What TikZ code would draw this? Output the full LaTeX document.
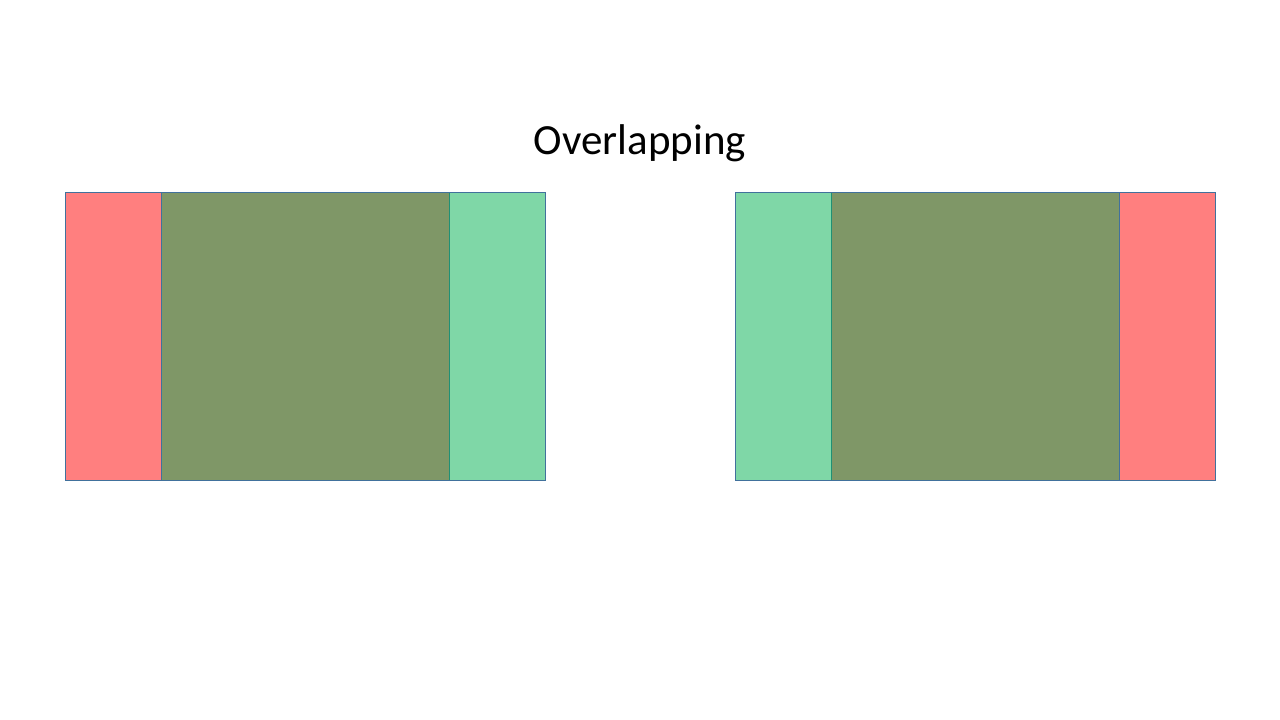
\documentclass[tikz,border=0pt]{standalone}
\usepackage{fontspec}
\setmainfont{Carlito}
\definecolor{redfill}{HTML}{FF0000}
\definecolor{greenfill}{HTML}{00B050}
\definecolor{edgeblue}{HTML}{41719C}
\begin{document}
\begin{tikzpicture}[x=1pt,y=-1pt,
  redbox/.style={fill=redfill,fill opacity=0.5,draw=edgeblue,draw opacity=1,line width=1pt},
  greenbox/.style={fill=greenfill,fill opacity=0.5,draw=edgeblue,draw opacity=1,line width=1pt}]
\useasboundingbox (0,0) rectangle (1280,720);
\fill[white] (0,0) rectangle (1280,720);
\node[anchor=base,inner sep=0pt,font=\fontsize{43}{50}\selectfont] (title) at (640,154) {Overlapping};
% left pair
\path[redbox] (65,192) rectangle (449,480);
\path[greenbox] (161,192) rectangle (545,480);
% right pair
\path[redbox] (831,192) rectangle (1215,480);
\path[greenbox] (735,192) rectangle (1119,480);
\end{tikzpicture}
\end{document}
